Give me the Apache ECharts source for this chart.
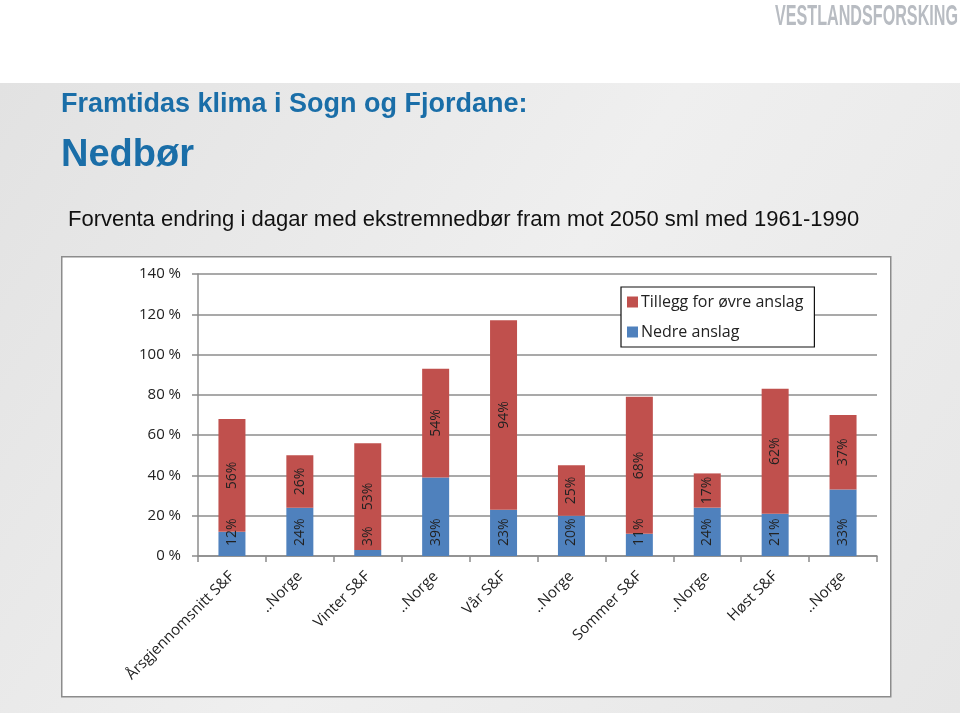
<!DOCTYPE html>
<html><head><meta charset="utf-8">
<script src="https://cdn.jsdelivr.net/npm/echarts@6/dist/echarts.min.js"></script>
<style>html,body{margin:0;padding:0;background:#fff}#c{width:960px;height:713px}</style>
</head><body><div id="c"></div>
<script>
const categories = ['Årsgjennomsnitt S&F','..Norge','Vinter S&F','..Norge','Vår S&F','..Norge','Sommer S&F','..Norge','Høst S&F','..Norge'];
const nedre = [12, 24, 3, 39, 23, 20, 11, 24, 21, 33];
const tillegg = [56, 26, 53, 54, 94, 25, 68, 17, 62, 37];
const yTicks = [0, 20, 40, 60, 80, 100, 120, 140];

const logoFont = 'bold 30px "Liberation Sans", sans-serif';
const logoText = 'VESTLANDSFORSKING';
const cv = document.createElement('canvas').getContext('2d');
cv.font = logoFont;
const logoScale = 183 / cv.measureText(logoText).width;

const chart = echarts.init(document.getElementById('c'), null, {renderer:'canvas'});
const lblFont = {fontFamily:'Open Sans, Liberation Sans, sans-serif', fontSize:14, color:'#222'};
chart.setOption({
  animation:false,
  backgroundColor:'#ffffff',
  graphic:[
    {type:'rect', left:0, top:83, shape:{width:960, height:630}, z:-10,
     style:{fill:new echarts.graphic.LinearGradient(0,0,1,1,[{offset:0,color:'#e2e2e2'},{offset:0.5,color:'#efefef'},{offset:1,color:'#e6e6e6'}])}},
    {type:'rect', left:61, top:256, shape:{width:829, height:440}, z:-5,
     style:{fill:'#ffffff', stroke:'#8c8c8c', lineWidth:1.5}},
    {type:'text', x:958, y:2, scaleX:logoScale, z:5, style:{text:logoText, fill:'#b8bcc2', font:logoFont, align:'right', verticalAlign:'top'}},
    {type:'text', left:61, top:91, z:5, style:{text:'Framtidas klima i Sogn og Fjordane:', fill:'#1a6ea8', font:'bold 27px "Liberation Sans Narrow", "Liberation Sans", sans-serif'}},
    {type:'text', left:61, top:137, z:5, style:{text:'Nedbør', fill:'#1a6ea8', font:'bold 38px "Liberation Sans Narrow", "Liberation Sans", sans-serif'}},
    {type:'text', left:68, top:209, z:5, style:{text:'Forventa endring i dagar med ekstremnedbør fram mot 2050 sml med 1961-1990', fill:'#111', font:'22px "Liberation Sans", Arial, sans-serif'}}
  ],
  legend:{
    left:621, top:287, width:198, orient:'vertical',
    data:['Tillegg for øvre anslag','Nedre anslag'],
    backgroundColor:'#fff', borderColor:'#111', borderWidth:1.2,
    padding:[7,11,7,6], itemGap:14, itemWidth:11, itemHeight:11, icon:'rect',
    textStyle:{fontFamily:'Open Sans, Liberation Sans, sans-serif', fontSize:16, color:'#222', padding:[0,0,0,-2]}
  },
  grid:{left:198, right:83, top:274, bottom:157, containLabel:false},
  xAxis:{
    type:'category', data:categories, boundaryGap:true,
    axisLine:{lineStyle:{color:'#8c8c8c', width:1.5}},
    axisTick:{show:true, alignWithLabel:false, length:6, lineStyle:{color:'#8c8c8c', width:1.5}},
    axisLabel:{rotate:45, interval:0, margin:18, fontFamily:'Open Sans, Liberation Sans, sans-serif', fontSize:15, color:'#222'}
  },
  yAxis:{
    type:'value', min:0, max:140, interval:20,
    axisLine:{show:true, lineStyle:{color:'#8c8c8c', width:1.5}},
    axisTick:{show:true, length:6, lineStyle:{color:'#8c8c8c', width:1.5}},
    splitLine:{lineStyle:{color:'#8c8c8c', width:1.5}},
    axisLabel:{margin:17, fontFamily:'Open Sans, Liberation Sans, sans-serif', fontSize:15, color:'#222',
      formatter:v => yTicks.includes(v) ? v + ' %' : ''}
  },
  series:[
    {name:'Nedre anslag', type:'bar', stack:'s', data:nedre, barWidth:27,
     itemStyle:{color:'#4f81bd'},
     label:{show:true, position:'insideBottom', distance:10, rotate:90, align:'left', verticalAlign:'middle',
       formatter:p => p.value + '%', ...lblFont}},
    {name:'Tillegg for øvre anslag', type:'bar', stack:'s', data:tillegg, barWidth:27,
     itemStyle:{color:'#c0504d'},
     label:{show:true, position:'inside', rotate:90, align:'center', verticalAlign:'middle',
       formatter:p => p.value + '%', ...lblFont}}
  ]
});
</script></body></html>
